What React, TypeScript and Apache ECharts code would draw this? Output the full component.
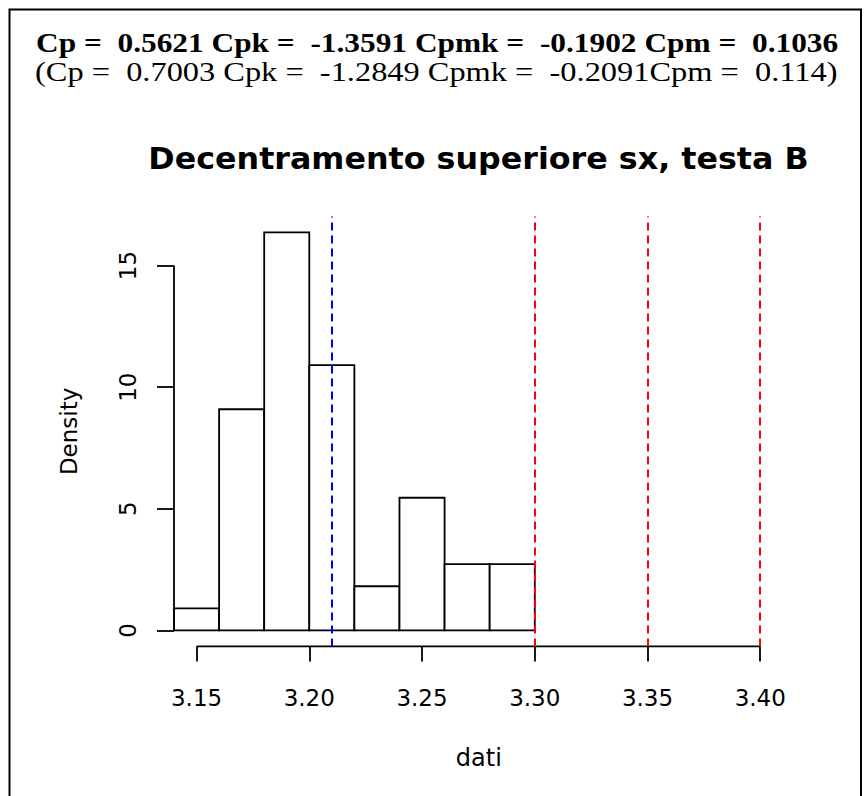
import React, { useEffect, useRef } from "react";
import * as echarts from "echarts";

// ---- data ----
const binStarts = [3.14, 3.16, 3.18, 3.2, 3.22, 3.24, 3.26, 3.28];
const binEnds = [3.16, 3.18, 3.2, 3.22, 3.24, 3.26, 3.28, 3.3];
const density = [0.909, 9.091, 16.364, 10.909, 1.818, 5.455, 2.727, 2.727];
const xTicks = [3.15, 3.2, 3.25, 3.3, 3.35, 3.4];
const yTicks = [0, 5, 10, 15];
const meanLines = [3.2084];
const specLines = [3.3, 3.35, 3.4];
const headerLine1 = "Cp =  0.5621 Cpk =  -1.3591 Cpmk =  -0.1902 Cpm =  0.1036";
const headerLine2 = "(Cp =  0.7003 Cpk =  -1.2849 Cpmk =  -0.2091Cpm =  0.114)";
const chartTitle = "Decentramento superiore sx, testa B";
const xName = "dati";
const yName = "Density";

// axis extents (R style 4% extension on y)
const X_MIN = 3.14;
const X_MAX = 3.4104;
const Y_MIN = -0.655;
const Y_MAX = 17.018;

export default function App() {
  const ref = useRef<HTMLDivElement>(null);

  useEffect(() => {
    if (!ref.current) return;
    const chart = echarts.init(ref.current, undefined, { renderer: "svg" });

    const barData = binStarts.map((s, i) => [s, binEnds[i], density[i]]);
    const axisSegments = [
      [binStarts[0], yTicks[0], binStarts[0], yTicks[yTicks.length - 1]],
      [xTicks[0], Y_MIN, xTicks[xTicks.length - 1], Y_MIN],
    ];

    const sansLabel = {
      fontFamily: "DejaVu Sans",
      fontSize: 23,
      color: "#000",
    };

    chart.setOption({
      animation: false,
      backgroundColor: "#ffffff",
      grid: {
        left: 174,
        right: 80.3,
        top: 216.4,
        bottom: 149.6,
        containLabel: false,
        outerBoundsMode: "none",
      },
      xAxis: {
        type: "value",
        min: X_MIN,
        max: X_MAX,
        axisLine: { show: false, onZero: false },
        splitLine: { show: false },
        axisTick: {
          show: true,
          length: 15,
          customValues: xTicks,
          lineStyle: { color: "#000", width: 1.8 },
        },
        axisLabel: {
          ...sansLabel,
          customValues: xTicks,
          margin: 40,
          formatter: (v: number) => v.toFixed(2),
        },
        name: xName,
        nameLocation: "middle",
        nameGap: 100,
        nameTextStyle: { ...sansLabel, fontSize: 24 },
      },
      yAxis: {
        type: "value",
        min: Y_MIN,
        max: Y_MAX,
        axisLine: { show: false, onZero: false },
        splitLine: { show: false },
        axisTick: {
          show: true,
          length: 17,
          customValues: yTicks,
          lineStyle: { color: "#000", width: 1.8 },
        },
        axisLabel: {
          ...sansLabel,
          customValues: yTicks,
          rotate: 90,
          margin: 35,
        },
        name: yName,
        nameLocation: "middle",
        nameRotate: 90,
        nameGap: 94,
        nameTextStyle: { ...sansLabel },
      },
      series: [
        {
          type: "custom",
          z: 2,
          silent: true,
          data: barData,
          encode: { x: [0, 1], y: 2 },
          renderItem: (_params: any, api: any) => {
            const p0 = api.coord([api.value(0), 0]);
            const p1 = api.coord([api.value(1), api.value(2)]);
            return {
              type: "rect",
              shape: {
                x: p0[0],
                y: p1[1],
                width: p1[0] - p0[0],
                height: p0[1] - p1[1],
              },
              style: { fill: "#ffffff", stroke: "#000000", lineWidth: 1.8 },
            };
          },
        },
        {
          type: "custom",
          z: 3,
          silent: true,
          data: axisSegments,
          renderItem: (_params: any, api: any) => {
            const a = api.coord([api.value(0), api.value(1)]);
            const b = api.coord([api.value(2), api.value(3)]);
            return {
              type: "line",
              shape: { x1: a[0], y1: a[1], x2: b[0], y2: b[1] },
              style: { stroke: "#000000", lineWidth: 1.8 },
            };
          },
        },
        {
          type: "line",
          z: 5,
          silent: true,
          data: [],
          markLine: {
            silent: true,
            symbol: ["none", "none"],
            label: { show: false },
            animation: false,
            data: [
              ...meanLines.map((v) => ({
                xAxis: v,
                lineStyle: { color: "#0000ff", type: [8, 5], width: 2 },
              })),
              ...specLines.map((v) => ({
                xAxis: v,
                lineStyle: { color: "#ff0000", type: [8, 5], width: 2 },
              })),
            ],
          },
        },
      ],
      graphic: [
        {
          type: "rect",
          silent: true,
          shape: { x: 9.5, y: 9.5, width: 851.5, height: 900 },
          style: { fill: "none", stroke: "#000", lineWidth: 2 },
        },
        {
          type: "text",
          x: 36,
          y: 43,
          scaleX: 1.12,
          silent: true,
          style: {
            text: headerLine1,
            font: 'bold 28px "Liberation Serif"',
            fill: "#000",
            textAlign: "left",
            textVerticalAlign: "middle",
          },
        },
        {
          type: "text",
          x: 35,
          y: 71,
          scaleX: 1.2,
          silent: true,
          style: {
            text: headerLine2,
            font: '27px "Liberation Serif"',
            fill: "#000",
            textAlign: "left",
            textVerticalAlign: "middle",
          },
        },
        {
          type: "text",
          x: 478.5,
          y: 158.6,
          scaleX: 1.058,
          silent: true,
          style: {
            text: chartTitle,
            font: 'bold 30px "DejaVu Sans"',
            fill: "#000",
            textAlign: "center",
            textVerticalAlign: "middle",
          },
        },
      ],
    });

    return () => {
      chart.dispose();
    };
  }, []);

  return (
    <div
      ref={ref}
      style={{ position: "fixed", left: 0, top: 0, width: 864, height: 796 }}
    />
  );
}
